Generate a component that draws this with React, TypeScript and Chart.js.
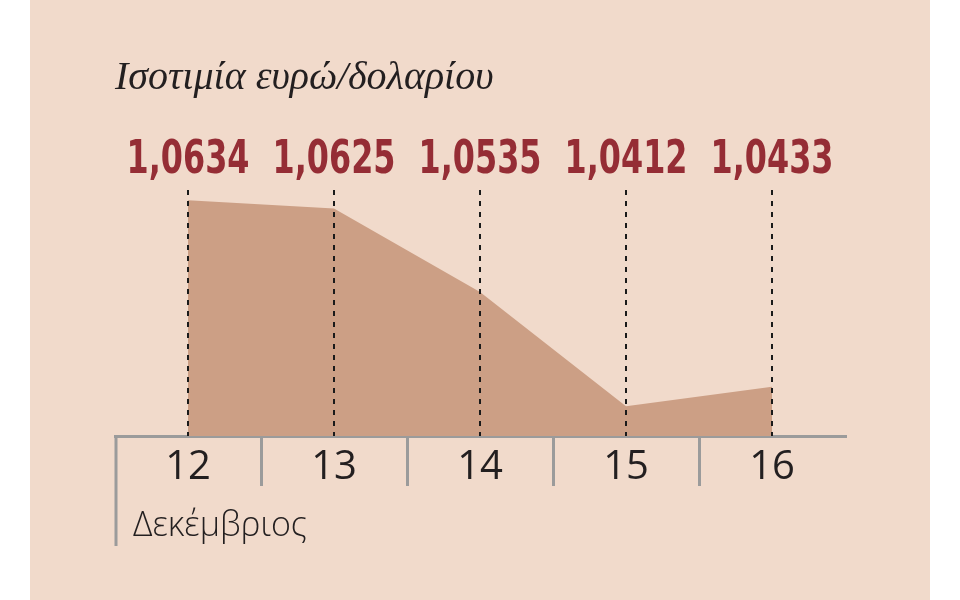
import React, { useEffect, useRef } from "react";
import { Chart, registerables } from "chart.js";

Chart.register(...registerables);

const categories = ["12", "13", "14", "15", "16"];
const rates = [1.0634, 1.0625, 1.0535, 1.0412, 1.0433];
const rateLabels = ["1,0634", "1,0625", "1,0535", "1,0412", "1,0433"];
const chartTitle = "Ισοτιμία ευρώ/δολαρίου";
const monthLabel = "Δεκέμβριος";

const BG = "#f1dacb";
const FILL = "#cc9f85";
const RED = "#952d35";
const INK = "#231f20";
const GRAY = "#9b9b9b";

const overlay = {
  id: "overlay",
  afterDatasetsDraw(chart: any) {
    const { ctx, chartArea, scales } = chart;
    const x = scales.x;
    ctx.save();
    // dashed vertical lines
    ctx.strokeStyle = "#1a1a1a";
    ctx.lineWidth = 2;
    ctx.setLineDash([5, 6]);
    rates.forEach((_, i) => {
      const px = Math.round(x.getPixelForValue(i));
      ctx.beginPath();
      ctx.moveTo(px, chartArea.top);
      ctx.lineTo(px, chartArea.bottom);
      ctx.stroke();
    });
    ctx.setLineDash([]);
    // value labels
    ctx.fillStyle = RED;
    ctx.textAlign = "center";
    ctx.textBaseline = "alphabetic";
    rateLabels.forEach((t, i) => {
      const px = x.getPixelForValue(i);
      ctx.save();
      ctx.translate(px, chartArea.top - 17);
      ctx.scale(0.77, 1);
      ctx.font = "bold 46px 'DejaVu Sans Condensed', 'Open Sans', sans-serif";
      ctx.fillText(t, 0, 0);
      ctx.restore();
    });
    // long left line
    ctx.strokeStyle = GRAY;
    ctx.lineWidth = 3;
    ctx.beginPath();
    ctx.moveTo(x.left + 1, chartArea.bottom);
    ctx.lineTo(x.left + 1, chartArea.bottom + 110);
    ctx.stroke();
    // month label
    ctx.fillStyle = INK;
    ctx.textAlign = "left";
    ctx.textBaseline = "middle";
    ctx.font = "300 34px 'Open Sans', sans-serif";
    ctx.fillText(monthLabel, x.left + 18, chartArea.bottom + 90);
    ctx.restore();
  },
};

export default function App() {
  const ref = useRef<HTMLCanvasElement | null>(null);
  useEffect(() => {
    if (!ref.current) return;
    const chart = new Chart(ref.current, {
      type: "line",
      data: {
        labels: categories,
        datasets: [
          {
            data: rates,
            fill: "start",
            backgroundColor: FILL,
            borderWidth: 0,
            borderColor: FILL,
            pointRadius: 0,
            tension: 0,
          },
        ],
      },
      plugins: [overlay],
      options: {
        animation: false,
        responsive: false,
        events: [],
        layout: { padding: { left: 85, right: 85, top: 0, bottom: 0 } },
        plugins: {
          legend: { display: false },
          tooltip: { enabled: false },
          title: {
            display: true,
            text: chartTitle,
            align: "start",
            color: INK,
            font: { family: "'Liberation Serif', serif", style: "italic", size: 40, weight: "normal" },
            padding: { top: 54, bottom: 88 },
          },
        },
        scales: {
          y: { display: false, min: 1.038, max: 1.0645 },
          x: {
            offset: true,
            border: { display: true, color: GRAY, width: 3 },
            grid: {
              display: true,
              offset: true,
              drawOnChartArea: false,
              drawTicks: true,
              tickLength: 50,
              color: (c: any) => (c.index === undefined || c.index === 0 ? "rgba(0,0,0,0)" : GRAY),
              lineWidth: 3,
            },
            ticks: {
              color: INK,
              padding: -42,
              maxRotation: 0,
              font: { family: "'Liberation Sans Narrow', 'Open Sans', sans-serif", size: 40, weight: "normal" },
            },
            afterFit: (s: any) => {
              s.height = 164;
            },
          },
        },
      },
    });
    return () => chart.destroy();
  }, []);
  return (
    <div style={{ position: "absolute", left: 0, top: 0, width: 960, height: 600, background: "#fff" }}>
      <div style={{ position: "absolute", left: 30, top: 0, width: 900, height: 600, background: BG }}>
        <canvas ref={ref} width={900} height={600} style={{ display: "block" }} />
      </div>
    </div>
  );
}
